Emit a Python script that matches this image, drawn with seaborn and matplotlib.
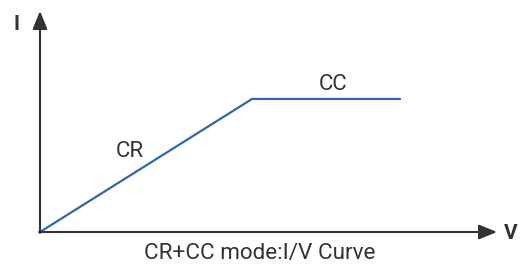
import numpy as np
import pandas as pd
import seaborn as sns
import matplotlib.pyplot as plt

# CR+CC mode curve: current rises with voltage (CR), then clamps (CC)
voltage = [0.0, 4.64, 7.88]
current = [0.0, 6.02, 6.02]
curve_labels = ['CR', 'CC']
title = 'CR+CC mode:I/V Curve'

sns.set_style('white')
plt.rcParams['font.family'] = ['Roboto', 'DejaVu Sans']

df = pd.DataFrame({'V': voltage, 'I': current})

fig = plt.figure(figsize=(5.28, 2.64), dpi=100)
ax = fig.add_axes([40 / 528, 32 / 264, 457 / 528, 221 / 264])
ax.set_xlim(0, 10)
ax.set_ylim(0, 10)

sns.lineplot(data=df, x='V', y='I', ax=ax, color='#2b69b4', linewidth=1.6,
             sort=False, estimator=None)

for s in ax.spines.values():
    s.set_visible(False)
ax.set_xticks([])
ax.set_yticks([])
ax.set_xlabel('')
ax.set_ylabel('')

axis_col = '#333333'
arrow = dict(arrowstyle='-|>,head_length=1.1,head_width=0.45', color=axis_col,
             lw=1.5, shrinkA=0, shrinkB=0)
ax.annotate('', xy=(1.0, 0), xytext=(-0.002, 0), xycoords='axes fraction',
            arrowprops=arrow, annotation_clip=False)
ax.annotate('', xy=(0, 1.0), xytext=(0, -0.004), xycoords='axes fraction',
            arrowprops=arrow, annotation_clip=False)

ax.text(-0.0525, 0.941, 'I', transform=ax.transAxes, fontsize=15, fontweight='bold',
        color=axis_col, ha='center', va='center')
ax.text(1.03, -0.005, 'V', transform=ax.transAxes, fontsize=15, fontweight='bold',
        color=axis_col, ha='center', va='center')

ax.text(1.96, 3.66, curve_labels[0], fontsize=16, color=axis_col, ha='center', va='center')
ax.text(6.42, 6.66, curve_labels[1], fontsize=16, color=axis_col, ha='center', va='center')

fig.text(260 / 528, 4.5 / 264, title, fontsize=16.2, color=axis_col,
         ha='center', va='baseline')

fig.savefig('out.png', dpi=100)
